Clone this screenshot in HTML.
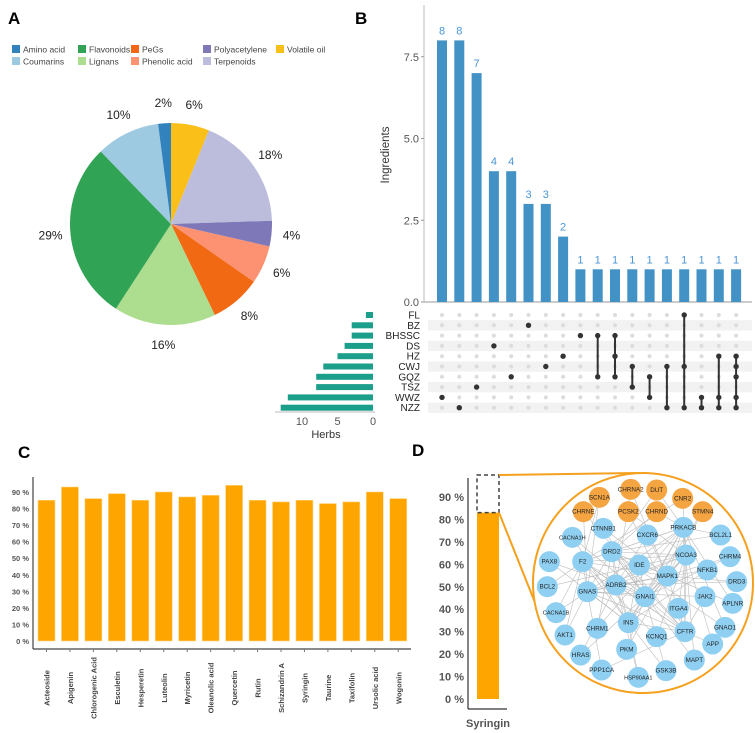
<!DOCTYPE html>
<html><head><meta charset="utf-8"><style>
html,body{margin:0;padding:0;background:#fff;}
svg{display:block;font-family:"Liberation Sans",sans-serif;}
</style></head><body>
<svg id="fig" width="755" height="733" viewBox="0 0 755 733">
<text x="8" y="24" font-size="17" font-weight="bold">A</text>
<text x="355" y="24" font-size="17" font-weight="bold">B</text>
<text x="18" y="458" font-size="17" font-weight="bold">C</text>
<text x="412" y="456" font-size="17" font-weight="bold">D</text>
<g id="pie"></g>
<g id="legend"></g>
<g id="upset"></g>
<g id="barc"></g>
<g id="bard"></g>
<g id="net"></g>
</svg>
<script>
// ---------- Panel A data ----------
const pieCategories = ["Volatile oil","Terpenoids","Polyacetylene","Phenolic acid","PeGs","Lignans","Flavonoids","Coumarins","Amino acid"];
const pieValues = [3,9,2,3,4,8,14,5,1];
const pieLabels = ["6%","18%","4%","6%","8%","16%","29%","10%","2%"];
const pieColors = ["#fbbf1a","#bcbddc","#7e78b8","#fc9272","#f16913","#addd8e","#31a354","#9ecae1","#3182bd"];
const legendOrder = ["Amino acid","Flavonoids","PeGs","Polyacetylene","Volatile oil","Coumarins","Lignans","Phenolic acid","Terpenoids"];
// ---------- Panel B data ----------
const setSizes = [8,8,7,4,4,3,3,2,1,1,1,1,1,1,1,1,1,1];
const herbNames = ["FL","BZ","BHSSC","DS","HZ","CWJ","GQZ","TSZ","WWZ","NZZ"];
const herbCounts = [1,3,3,4,5,7,8,8,12,13];
const setMembers = [[8],[9],[7],[3],[6],[1],[5],[4],[2],[2,6],[2,4,6],[5,7],[6,8],[5,9],[0,5,9],[8,9],[4,8,9],[4,5,6,8,9]];
const yTicksB = [0,2.5,5,7.5];
const herbTicks = [10,5,0];
// ---------- Panel C data ----------
const compounds = ["Acteoside","Apigenin","Chlorogenic Acid","Esculetin","Hesperetin","Luteolin","Myricetin","Oleanolic acid","Quercetin","Rutin","Schizandrin A","Syringin","Taurine","Taxifolin","Ursolic acid","Wogonin"];
const compoundValues = [85,93,86,89,85,90,87,88,94,85,84,85,83,84,90,86];
const pctTicks = [0,10,20,30,40,50,60,70,80,90];
// ---------- Panel D data ----------
const dCategory = ["Syringin"];
const dValue = [83];

const NS="http://www.w3.org/2000/svg";
function mk(tag,attrs,parent,txt){const e=document.createElementNS(NS,tag);for(const k in attrs)e.setAttribute(k,attrs[k]);if(txt!==undefined)e.textContent=txt;parent.appendChild(e);return e;}

// ---------- Pie ----------
(function(){
const g=document.getElementById('pie');
const cx=171,cy=224,r=101,lr=121;
const total=pieValues.reduce((a,b)=>a+b,0);
let acc=0;
pieValues.forEach((v,i)=>{
  const a0=acc/total*2*Math.PI, a1=(acc+v)/total*2*Math.PI; acc+=v;
  const x0=cx+r*Math.sin(a0),y0=cy-r*Math.cos(a0),x1=cx+r*Math.sin(a1),y1=cy-r*Math.cos(a1);
  const large=(a1-a0)>Math.PI?1:0;
  const p=mk('path',{d:`M${cx},${cy} L${x0},${y0} A${r},${r} 0 ${large} 1 ${x1},${y1} Z`,fill:pieColors[i]},g);
  
  
  const am=(a0+a1)/2;
  const t=mk('text',{x:cx+lr*Math.sin(am),y:cy-lr*Math.cos(am)+4,'font-size':12,'text-anchor':'middle',fill:'#222'},g,pieLabels[i]);
  
  
});
const lg=document.getElementById('legend');
const lx=[12,78,131,203,276,12,78,131,203];
legendOrder.forEach((n,i)=>{
  const y=i<5?45:57;
  const ci=pieCategories.indexOf(n);
  const s=mk('rect',{x:lx[i],y:y,width:8,height:8,fill:pieColors[ci]},lg);
  
  
  const t=mk('text',{x:lx[i]+11,y:y+7.5,'font-size':8.5,fill:'#444'},lg,n);
  
  
});
})();

// ---------- UpSet ----------
(function(){
const g=document.getElementById('upset');
const x0=424,base=302,unit=32.7,colX=i=>442+i*17.3,bw=10;
const yB=v=>base-v*unit;
const rowY=i=>315+i*10.3;
// shaded rows
herbNames.forEach((h,i)=>{ if(i%2===1){const s=mk('rect',{x:428,y:rowY(i)-5.1,width:324,height:10.3,fill:'#f2f2f2'},g);
  
  }});
mk('line',{x1:x0,y1:5,x2:x0,y2:base,stroke:'#bbb','stroke-width':1},g);
mk('line',{x1:x0,y1:base,x2:752,y2:base,stroke:'#999','stroke-width':1},g);
yTicksB.forEach(v=>{
  const t=mk('text',{x:x0-5,y:yB(v)+4,'font-size':11,'text-anchor':'end',fill:'#555'},g,v.toFixed(1));
  
  
  mk('line',{x1:x0-3,y1:yB(v),x2:x0,y2:yB(v),stroke:'#999'},g);
});
const yl=mk('text',{x:0,y:0,'font-size':11.5,'text-anchor':'middle',fill:'#333',transform:`translate(389,155) rotate(-90)`},g,'Ingredients');


setSizes.forEach((v,i)=>{
  const b=mk('rect',{x:colX(i)-bw/2,y:yB(v),width:bw,height:v*unit,fill:'#4292c6'},g);
  
  
  const t=mk('text',{x:colX(i),y:yB(v)-6,'font-size':11,'text-anchor':'middle',fill:'#4a95d6'},g,String(v));
  
  
});
// matrix
setMembers.forEach((m,i)=>{
  herbNames.forEach((h,j)=>{const c=mk('circle',{cx:colX(i),cy:rowY(j),r:2,fill:'#dcdcdc'},g);
    
    });
  if(m.length>1){mk('line',{x1:colX(i),y1:rowY(Math.min(...m)),x2:colX(i),y2:rowY(Math.max(...m)),stroke:'#333','stroke-width':2},g);}
  m.forEach(j=>{const c=mk('circle',{cx:colX(i),cy:rowY(j),r:2.7,fill:'#333'},g);
    
    });
});
// herb labels + bars
const hz=373,hu=7.1;
herbNames.forEach((h,j)=>{
  const t=mk('text',{x:420,y:rowY(j)+3.5,'font-size':10,'text-anchor':'end',fill:'#222'},g,h);
  
  
  const b=mk('rect',{x:hz-herbCounts[j]*hu,y:rowY(j)-3,width:herbCounts[j]*hu,height:6,fill:'#1b9e8a'},g);
  
  
});
mk('line',{x1:275,y1:412,x2:hz+2,y2:412,stroke:'#bbb'},g);
herbTicks.forEach(v=>{const t=mk('text',{x:hz-v*hu,y:425,'font-size':11,'text-anchor':'middle',fill:'#555'},g,String(v));
  
  });
const ht=mk('text',{x:326,y:438,'font-size':11,'text-anchor':'middle',fill:'#333'},g,'Herbs');


})();

// ---------- Panel C ----------
(function(){
const g=document.getElementById('barc');
const ax=33,base=641,u=1.656,bx=i=>38+i*23.45,bw=17;
const y=v=>base-v*u;
mk('line',{x1:ax,y1:477,x2:ax,y2:649,stroke:'#444','stroke-width':1.2},g);
mk('line',{x1:ax,y1:649,x2:411,y2:649,stroke:'#444','stroke-width':1.2},g);
pctTicks.forEach(v=>{
  const t=mk('text',{x:ax-4,y:y(v)+3,'font-size':7.5,'font-weight':'bold','text-anchor':'end',fill:'#555'},g,v+' %');
  
  
});
compoundValues.forEach((v,i)=>{
  const b=mk('rect',{x:bx(i),y:y(v),width:bw,height:v*u,fill:'#ffa500',stroke:'#ffd88a','stroke-width':0.6},g);
  
  
  mk('line',{x1:bx(i)+bw/2,y1:649,x2:bx(i)+bw/2,y2:652,stroke:'#777'},g);
  const t=mk('text',{x:0,y:0,'font-size':7.5,'font-weight':'bold','text-anchor':'middle',fill:'#444',transform:`translate(${bx(i)+bw/2+3},688) rotate(-90)`},g,compounds[i]);
  
  
});
})();

// ---------- Panel D bar ----------
(function(){
const g=document.getElementById('bard');
const ax=468,base=699,u=2.245;
const y=v=>base-v*u;
mk('line',{x1:ax,y1:478,x2:ax,y2:709,stroke:'#333','stroke-width':1.2},g);
mk('line',{x1:ax,y1:709,x2:507,y2:709,stroke:'#333','stroke-width':1.2},g);
pctTicks.forEach(v=>{
  const t=mk('text',{x:ax-4,y:y(v)+4,'font-size':11,'font-weight':'bold','text-anchor':'end',fill:'#555'},g,v+' %');
  
  
});
dValue.forEach((v,i)=>{
  const b=mk('rect',{x:477,y:y(v),width:22,height:v*u,fill:'#ffa500'},g);
  
  
  const bx=mk('rect',{x:477,y:475,width:22,height:y(v)-475,fill:'none',stroke:'#444','stroke-width':1.5,'stroke-dasharray':'4,3'},g);
  
  
  mk('line',{x1:499,y1:475,x2:640,y2:473,stroke:'#f5a01e','stroke-width':2},g);
  mk('line',{x1:499,y1:y(v),x2:536,y2:605,stroke:'#f5a01e','stroke-width':2},g);
  const t=mk('text',{x:488,y:727,'font-size':11,'font-weight':'bold','text-anchor':'middle',fill:'#555'},g,dCategory[i]);
  
  
});
})();

// ---------- Network ----------
(function(){
const g=document.getElementById('net');
const c=mk('circle',{cx:643,cy:583,r:110,fill:'#fff',stroke:'#f5a01e','stroke-width':2},g);


const nodes=[
["CHRNA2",362,148,1],["DUT",440,150,1],["SCN1A",268,172,1],["CNR2",518,175,1],["CHRNE",220,215,1],["PCSK2",355,215,1],["CHRND",440,215,1],["STMN4",578,215,1],
["CTNNB1",280,265,0],["CXCR6",412,285,0],["PRKACB",520,262,0],["CACNA1H",187,292,0],["BCL2L1",632,285,0],["DRD2",305,335,0],["NCOA3",528,345,0],["PAX8",118,365,0],["F2",218,365,0],["IDE",388,375,0],["CHRM4",660,350,0],["MAPK1",472,408,0],["NFKB1",592,390,0],["DRD3",680,425,0],["BCL2",112,440,0],["ADRB2",318,435,0],["GNAS",232,455,0],["GNAI1",405,470,0],["JAK2",585,470,0],["APLNR",668,490,0],["CACNA1B",138,518,0],["ITGA4",505,505,0],["INS",355,548,0],["CHRM1",262,565,0],["AKT1",165,585,0],["CFTR",525,575,0],["KCNQ1",440,590,0],["GNAO1",645,562,0],["PKM",350,628,0],["APP",608,612,0],["HRAS",212,645,0],["MAPT",553,660,0],["PPP1CA",275,690,0],["GSK3B",468,692,0],["HSP90AA1",385,712,0]];
const pos={};nodes.forEach(n=>pos[n[0]]=[510+n[1]/3,440+n[2]/3]);
const hubs=["GNAI1","MAPK1","PRKACB","INS","ADRB2","GNAS","CFTR","DRD2","F2","NCOA3"];
const others=["CTNNB1","CXCR6","BCL2L1","IDE","NFKB1","JAK2","ITGA4","CHRM1","AKT1","KCNQ1","PKM","HRAS","MAPT","GSK3B","HSP90AA1","PPP1CA","APP","GNAO1","CACNA1B","BCL2","CHRM4","DRD3","APLNR","CACNA1H","PAX8","CHRNE","PCSK2","CHRND","SCN1A","CNR2","STMN4","CHRNA2","DUT"];
const edges=[];
hubs.forEach((h,i)=>{hubs.slice(i+1).forEach(k=>edges.push([h,k]));});
others.forEach((o,i)=>{edges.push([o,hubs[i%hubs.length]]);edges.push([o,hubs[(i*3+1)%hubs.length]]);});
edges.forEach(e=>{const l=mk('line',{x1:pos[e[0]][0],y1:pos[e[0]][1],x2:pos[e[1]][0],y2:pos[e[1]][1],stroke:'#bdbdbd','stroke-width':0.6},g);
  
  });
nodes.forEach(n=>{const [x,y]=pos[n[0]];
  const ci=mk('circle',{cx:x,cy:y,r:10.5,fill:n[3]?'#f5a442':'#8fd0f2'},g);
  
  
  const t=mk('text',{x:x,y:y+2,'font-size':n[0].length>6?5.6:6.3,'text-anchor':'middle',fill:'#222'},g,n[0]);
  
  });
})();
</script>
</body></html>
